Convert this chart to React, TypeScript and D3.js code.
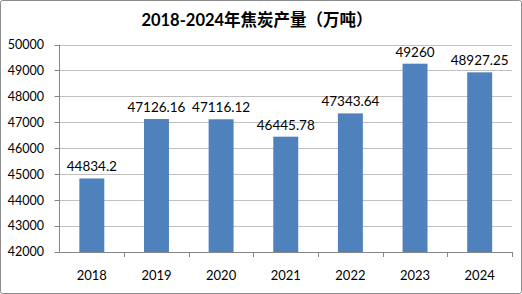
import React from "react";
import * as d3 from "d3";

const years = ["2018", "2019", "2020", "2021", "2022", "2023", "2024"];
const values = [44834.2, 47126.16, 47116.12, 46445.78, 47343.64, 49260, 48927.25];
const valueLabels = ["44834.2", "47126.16", "47116.12", "46445.78", "47343.64", "49260", "48927.25"];
const yTicks = [42000, 43000, 44000, 45000, 46000, 47000, 48000, 49000, 50000];
const title = "2018-2024年焦炭产量（万吨）";

const W = 522;
const H = 294;
const left = 59.5;
const right = 512;
const top = 44.5;
const bottom = 252;
const font = "Lato, 'Open Sans', 'Noto Sans CJK SC', sans-serif";

export default function App() {
  const x = d3.scaleBand<string>().domain(years).range([left, right]).paddingInner(0.614).paddingOuter(0.307);
  const y = d3.scaleLinear().domain([42000, 50000]).range([bottom, top]);
  const step = (right - left) / years.length;

  return (
    <svg width={W} height={H} style={{ position: "absolute", left: 0, top: 0, background: "#fff" }}>
      <rect x={0.5} y={0.5} width={W - 1} height={H - 1} fill="#fff" stroke="#8c8c8c" strokeWidth={1} rx={2} />
      <text x={257} y={26} textAnchor="middle" fontFamily={font} fontWeight="bold" fontSize={16.5} fill="#000">
        {title}
      </text>
      {yTicks.map((t) => (
        <g key={t}>
          <line x1={left} x2={right} y1={Math.round(y(t)) + 0.5} y2={Math.round(y(t)) + 0.5} stroke={t === 42000 ? "#868686" : "#c0c0c0"} strokeWidth={1} />
          <line x1={left - 5} x2={left} y1={Math.round(y(t)) + 0.5} y2={Math.round(y(t)) + 0.5} stroke="#868686" />
          <text x={44} y={y(t)} dy="0.35em" textAnchor="end" fontFamily={font} fontSize={12.5} fill="#000">
            {t}
          </text>
        </g>
      ))}
      <line x1={left} x2={left} y1={top} y2={bottom} stroke="#868686" />
      {years.map((_, i) => (
        <line key={"t" + i} x1={Math.round(left + step * (i + 1)) + 0.5} x2={Math.round(left + step * (i + 1)) + 0.5} y1={bottom} y2={bottom + 5} stroke="#868686" />
      ))}
      {years.map((yr, i) => (
        <g key={yr}>
          <rect x={x(yr)} y={y(values[i])} width={x.bandwidth()} height={bottom - y(values[i])} fill="#4f81bd" />
          <text x={(x(yr) as number) + x.bandwidth() / 2} y={y(values[i]) - 7} textAnchor="middle" fontFamily={font} fontSize={13.5} fill="#000">
            {valueLabels[i]}
          </text>
          <text x={(x(yr) as number) + x.bandwidth() / 2} y={275} dy="0.35em" textAnchor="middle" fontFamily={font} fontSize={13} fill="#000">
            {yr}
          </text>
        </g>
      ))}
    </svg>
  );
}
